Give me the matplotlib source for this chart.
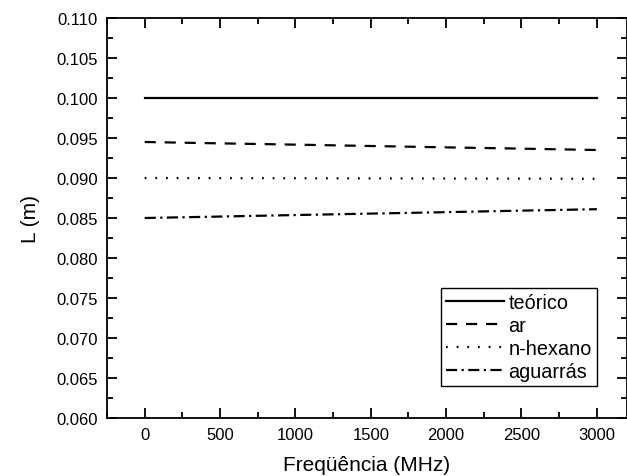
import numpy as np
import matplotlib
matplotlib.use('Agg')
import matplotlib.pyplot as plt
from matplotlib.ticker import MultipleLocator

plt.rcParams['font.family'] = ['Liberation Sans', 'DejaVu Sans']

# data
freq = [0, 500, 1000, 1500, 2000, 2500, 3000]
teorico = [0.1000, 0.1000, 0.1000, 0.1000, 0.1000, 0.1000, 0.1000]
ar = [0.0945, 0.09433, 0.09417, 0.0940, 0.09383, 0.09367, 0.0935]
hexano = [0.0900, 0.08998, 0.08997, 0.08995, 0.08993, 0.08992, 0.0899]
aguarras = [0.0850, 0.08518, 0.08537, 0.08555, 0.08573, 0.08592, 0.0861]

fig = plt.figure(figsize=(6.27, 4.77), dpi=100)
ax = fig.add_axes([107 / 627, 1 - 419 / 477, 520 / 627, 400 / 477])

lw = 1.6
ax.plot(freq, teorico, color='black', lw=lw, ls='-', label='teórico')
ax.plot(freq, ar, color='black', lw=lw, ls=(0, (5, 4)), label='ar')
ax.plot(freq, hexano, color='black', lw=lw, ls=(0, (0.8, 4)), label='n-hexano')
ax.plot(freq, aguarras, color='black', lw=lw, ls=(0, (5, 2, 1, 2)), label='aguarrás')

ax.set_xlim(-250, 3200)
ax.set_ylim(0.060, 0.110)
ax.xaxis.set_major_locator(MultipleLocator(500))
ax.xaxis.set_minor_locator(MultipleLocator(250))
ax.yaxis.set_major_locator(MultipleLocator(0.005))
ax.yaxis.set_minor_locator(MultipleLocator(0.0025))
ax.yaxis.set_major_formatter(plt.FormatStrFormatter('%.3f'))

ax.tick_params(which='both', direction='in', top=True, right=True,
               labelsize=12, width=1.3, pad=6.5)
ax.tick_params(which='major', length=7)
ax.tick_params(which='minor', length=4)
for s in ax.spines.values():
    s.set_linewidth(1.3)

ax.set_xlabel('Freqüência (MHz)', fontsize=15, labelpad=9)
ax.set_ylabel('L (m)', fontsize=15, labelpad=12)

ax.legend(loc='lower right', bbox_to_anchor=(0.942, 0.08), fontsize=14.3,
          frameon=True, fancybox=False, edgecolor='black', framealpha=1,
          handlelength=2.9, handletextpad=0.25, labelspacing=0.2,
          borderpad=0.25, borderaxespad=0)

fig.savefig('out.png', dpi=100)
